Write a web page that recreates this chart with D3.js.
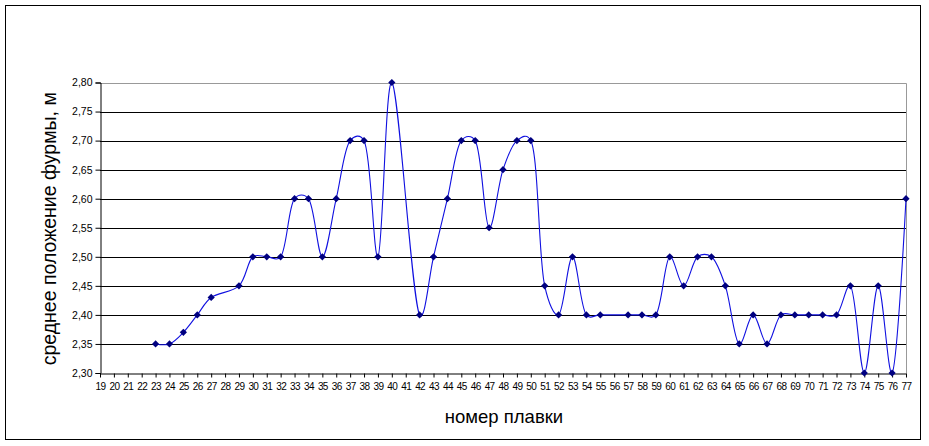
<!DOCTYPE html>
<html>
<head>
<meta charset="utf-8">
<script src="https://cdn.jsdelivr.net/npm/d3@7"></script>
<style>
  body { margin: 0; background: #fff; }
  svg text { font-family: Arial, "Liberation Sans", sans-serif; fill: #000; }
</style>
</head>
<body>
<svg id="chart" width="929" height="446"></svg>
<script>
// номер плавки (categories)
var categories = ["19","20","21","22","23","24","25","26","27","28","29","30","31","32","33","34","35","36","37","38","39","40","41","42","43","44","45","46","47","48","49","50","51","52","53","54","55","56","57","58","59","60","61","62","63","64","65","66","67","68","69","70","71","72","73","74","75","76","77"];
// среднее положение фурмы, м (null = no value)
var values = [null,null,null,null,2.35,2.35,2.37,2.40,2.43,null,2.45,2.50,2.50,2.50,2.60,2.60,2.50,2.60,2.70,2.70,2.50,2.80,null,2.40,2.50,2.60,2.70,2.70,2.55,2.65,2.70,2.70,2.45,2.40,2.50,2.40,2.40,null,2.40,2.40,2.40,2.50,2.45,2.50,2.50,2.45,2.35,2.40,2.35,2.40,2.40,2.40,2.40,2.40,2.45,2.30,2.45,2.30,2.60];
var yTicks = [2.30,2.35,2.40,2.45,2.50,2.55,2.60,2.65,2.70,2.75,2.80];

var svg = d3.select("#chart");

// chart frame
svg.append("rect")
    .attr("x", 5.5).attr("y", 5.5)
    .attr("width", 915).attr("height", 434)
    .attr("fill", "none")
    .attr("stroke", "#000")
    .attr("stroke-width", 1);

var plot = {left: 100, right: 906, top: 82.5, bottom: 373};

var x = d3.scalePoint()
    .domain(categories)
    .range([plot.left, plot.right]);

var y = d3.scaleLinear()
    .domain([2.30, 2.80])
    .range([plot.bottom, plot.top]);

// horizontal gridlines
svg.append("g")
  .selectAll("line")
  .data(yTicks.slice(1, -1))
  .join("line")
    .attr("x1", plot.left).attr("x2", plot.right)
    .attr("y1", function(d) { return Math.round(y(d)) + 0.5; })
    .attr("y2", function(d) { return Math.round(y(d)) + 0.5; })
    .attr("stroke", "#000")
    .attr("stroke-width", 1);

// plot area border (top + right, grey)
svg.append("path")
    .attr("d", "M" + plot.left + "," + (Math.round(plot.top) + 0.5) + "H" + (plot.right + 0.5) + "V" + plot.bottom)
    .attr("fill", "none")
    .attr("stroke", "#999")
    .attr("stroke-width", 1);

// y axis
var yAxis = svg.append("g")
    .attr("transform", "translate(" + (plot.left + 0.5) + ",0)")
    .call(d3.axisLeft(y)
      .tickValues(yTicks)
      .tickSize(5)
      .tickPadding(3)
      .tickFormat(function(d) { return d.toFixed(2).replace(".", ","); }));
yAxis.select(".domain").attr("stroke", "#000");
yAxis.selectAll(".tick line").attr("stroke", "#000");
yAxis.selectAll("text").attr("font-size", 10.5).attr("font-family", null);

// x axis
var xAxis = svg.append("g")
    .attr("transform", "translate(0," + (Math.round(plot.bottom) + 0.5) + ")")
    .call(d3.axisBottom(x).tickSize(4).tickSizeOuter(0).tickPadding(5));
xAxis.select(".domain").attr("stroke", "#000");
xAxis.selectAll(".tick line").attr("stroke", "#000");
xAxis.selectAll("text").attr("font-size", 10).attr("font-family", null)
    .attr("letter-spacing", -0.6);

// series (missing values are skipped and connected, as in the source)
var pts = categories.map(function(c, i) { return {c: c, v: values[i]}; })
    .filter(function(d) { return d.v !== null; });

var line = d3.line()
    .x(function(d) { return x(d.c); })
    .y(function(d) { return y(d.v); })
    .curve(d3.curveCatmullRom.alpha(0.3));

svg.append("path")
    .datum(pts)
    .attr("d", line)
    .attr("fill", "none")
    .attr("stroke", "#1010e0")
    .attr("stroke-width", 1.1);

svg.append("g")
  .selectAll("path")
  .data(pts)
  .join("path")
    .attr("transform", function(d) { return "translate(" + x(d.c) + "," + y(d.v) + ")"; })
    .attr("d", "M0,-3.6L3.6,0L0,3.6L-3.6,0Z")
    .attr("fill", "#000080");

// axis titles
svg.append("text")
    .attr("transform", "translate(49," + ((plot.top + plot.bottom) / 2 + 1) + ") rotate(-90)")
    .attr("text-anchor", "middle")
    .attr("dominant-baseline", "central")
    .attr("font-size", 19.5)
    .text("среднее положение фурмы, м");

svg.append("text")
    .attr("x", 504)
    .attr("y", 423)
    .attr("text-anchor", "middle")
    .attr("font-size", 18.5)
    .text("номер плавки");
</script>
</body>
</html>
